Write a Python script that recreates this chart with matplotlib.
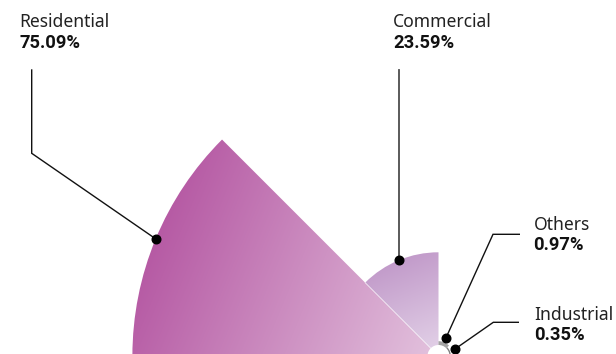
import numpy as np
import matplotlib
matplotlib.use("Agg")
import matplotlib.pyplot as plt
from matplotlib.patches import Wedge, Circle
from matplotlib.colors import to_rgb

# ---- data ----
categories = ["Residential", "Commercial", "Others", "Industrial"]
shares = [75.09, 23.59, 0.97, 0.35]
value_labels = ["75.09%", "23.59%", "0.97%", "0.35%"]

# ---- styling ----
# (outer colour, inner colour) for each sector
sector_colors = [("#b65aa4", "#e3c3de"),
                 ("#c29bca", "#e4d4e9"),
                 ("#a3a3a3", "#a3a3a3"),
                 ("#7d7d7d", "#7d7d7d")]
W, H = 616, 354
CX, CY = 438.5, 356.0          # pole of the rose (pixel space)
HOLE = 11.0                     # white hub radius
SCALE = 3.93                    # pixels per percentage point
START, SPAN = 180.0, 45.0       # first sector starts at the left, runs clockwise

# label anchors: (text x, name baseline y), and leader path points after the dot
label_pos = [(19, 27.3), (393.3, 27.3), (533.5, 229.5), (534, 319.5)]
leader_paths = [[(31.7, 153.3), (31.7, 70)],
                [("dotx", 70)],
                [(493, 234.3), (519.3, 234.3)],
                [(493.3, 322.3), (518.3, 322.3)]]
leader_colors = ["#111111", "#4d4d4d", "#111111", "#111111"]
leader_widths = [1.0, 1.3, 1.0, 1.0]

plt.rcParams["font.family"] = ["Noto Sans", "DejaVu Sans"]
VALUE_FONT = ["Roboto", "DejaVu Sans"]

fig = plt.figure(figsize=(W / 100, H / 100), dpi=100)
ax = fig.add_axes([0, 0, 1, 1])
ax.set_xlim(0, W)
ax.set_ylim(H, 0)
ax.axis("off")

xs = np.arange(W) + 0.5
ys = np.arange(H) + 0.5
X, Y = np.meshgrid(xs, ys)

dots = []
for i, (cat, v) in enumerate(zip(categories, shares)):
    r = HOLE + SCALE * v
    a1 = START - SPAN * (i + 1)      # screen angles, counter-clockwise
    a2 = START - SPAN * i
    mid = np.deg2rad((a1 + a2) / 2)

    # y axis is inverted, so screen angle a maps to data angle -a
    wedge = Wedge((CX, CY), r, -a2, -a1, transform=ax.transData,
                  facecolor="none", edgecolor="none")
    ax.add_patch(wedge)

    c_out = np.array(to_rgb(sector_colors[i][0]))
    c_in = np.array(to_rgb(sector_colors[i][1]))
    proj = (X - CX) * np.cos(mid) - (Y - CY) * np.sin(mid)
    t = np.clip(proj / r, 0, 1)[..., None]
    img = c_in + (c_out - c_in) * t
    im = ax.imshow(img, extent=(0, W, H, 0), origin="upper",
                   interpolation="bilinear", zorder=1)
    im.set_clip_path(wedge)

    # dot on the outer arc (nudged outward for the tiny sectors)
    rd = r if v > 5 else r + 5
    dx = CX + rd * np.cos(mid)
    dy = CY - rd * np.sin(mid)
    dots.append((dx, dy))

# thin separator between the two large sectors
sep = np.deg2rad(START - SPAN)
r_sep = HOLE + SCALE * shares[1]
ax.plot([CX, CX + r_sep * np.cos(sep)], [CY, CY - r_sep * np.sin(sep)],
        color="white", lw=0.6, alpha=0.7, zorder=2)

# white hub
ax.add_patch(Circle((CX, CY), HOLE, facecolor="white", edgecolor="none", zorder=3))

# leader lines, dots and labels
for i, (cat, lab) in enumerate(zip(categories, value_labels)):
    dx, dy = dots[i]
    pts = [(dx, dy)]
    for (px, py) in leader_paths[i]:
        pts.append((dx if px == "dotx" else px, py))
    px, py = zip(*pts)
    ax.plot(px, py, color=leader_colors[i], lw=leader_widths[i],
            solid_joinstyle="miter", zorder=4)
    ax.plot([dx], [dy], "o", ms=6.2, color="black", zorder=5)

    tx, ty = label_pos[i]
    ax.text(tx, ty, cat, fontsize=12.6, color="#222222", va="baseline", ha="left")
    ax.text(tx, ty + 20.5, lab, fontsize=13.2, fontweight="bold", color="#111111",
            family=VALUE_FONT, va="baseline", ha="left")

fig.savefig("out.png", dpi=100)
